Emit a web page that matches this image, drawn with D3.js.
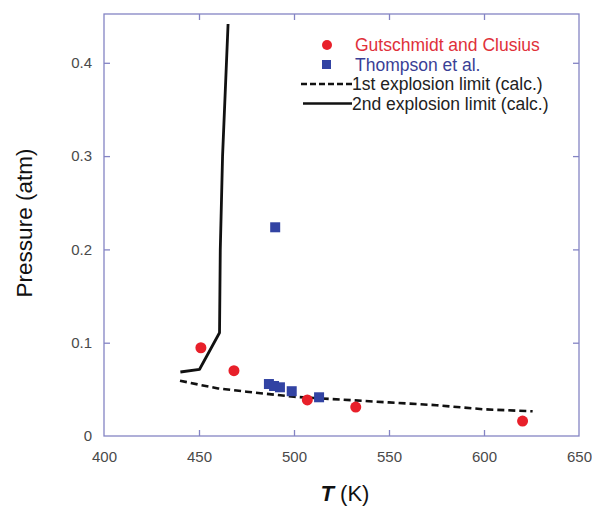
<!DOCTYPE html>
<html><head><meta charset="utf-8">
<script src="https://cdn.jsdelivr.net/npm/d3@7"></script>
<style>body{margin:0;background:#fff;} svg{display:block;}</style>
</head><body><svg id="c" width="592" height="507"></svg>
<script>
const xTicks = [400, 450, 500, 550, 600, 650];
const yTicks = [0, 0.1, 0.2, 0.3, 0.4];
const gutT = [451, 468.4, 507, 532.5, 620.3];
const gutP = [0.0946, 0.070, 0.0386, 0.031, 0.016];
const thoT = [490.1, 486.8, 489.5, 492.6, 498.8, 513.2];
const thoP = [0.2237, 0.0557, 0.0536, 0.0522, 0.048, 0.0415];
const lim1T = [440, 450, 460, 475, 500, 525, 550, 575, 600, 625.6];
const lim1P = [0.0593, 0.055, 0.051, 0.0475, 0.042, 0.039, 0.036, 0.033, 0.0286, 0.0265];
const lim2T = [440.2, 450.3, 460.8, 461.2, 462.4, 465.3];
const lim2P = [0.0686, 0.0715, 0.1107, 0.2, 0.3, 0.4416];
const legendLabels = ["Gutschmidt and Clusius", "Thompson et al.", "1st explosion limit (calc.)", "2nd explosion limit (calc.)"];

const svg = d3.select("#c");
const L = 104, R = 579, T = 14, B = 436;
const x = d3.scaleLinear().domain([400, 650]).range([L, R]);
const y = d3.scaleLinear().domain([0, 0.4523]).range([B, T]);
const axisCol = "#8484c4", tickTxt = "#4a4a4a";
const font = "Liberation Sans, Arial, sans-serif";

// frame
svg.append("rect").attr("x", L).attr("y", T).attr("width", R - L).attr("height", B - T)
  .attr("fill", "none").attr("stroke", axisCol).attr("stroke-width", 1.3);

const tickLen = 6;
const axB = d3.axisBottom(x).tickValues(xTicks).tickSizeInner(-tickLen).tickSizeOuter(0).tickPadding(15).tickFormat(d3.format("d"));
const gB = svg.append("g").attr("transform", `translate(0,${B})`).call(axB);
const axL = d3.axisLeft(y).tickValues(yTicks).tickSizeInner(-tickLen).tickSizeOuter(0).tickPadding(12).tickFormat(d => d === 0 ? "0" : d3.format(".1f")(d));
const gL = svg.append("g").attr("transform", `translate(${L},0)`).call(axL);
const axT = d3.axisTop(x).tickValues(xTicks.slice(1, -1)).tickSizeInner(-tickLen).tickSizeOuter(0).tickFormat("");
const gT = svg.append("g").attr("transform", `translate(0,${T})`).call(axT);
const axR = d3.axisRight(y).tickValues(yTicks.slice(1)).tickSizeInner(-tickLen).tickSizeOuter(0).tickFormat("");
const gR = svg.append("g").attr("transform", `translate(${R},0)`).call(axR);
[gB, gL, gT, gR].forEach(g => {
  g.select(".domain").remove();
  g.selectAll(".tick line").attr("stroke", axisCol).attr("stroke-width", 1.3);
  g.selectAll(".tick text").attr("fill", tickTxt).style("font-family", font).style("font-size", "15px");
});
gB.selectAll(".tick").filter(d => d === 400 || d === 650).select("line").remove();
gL.selectAll(".tick").filter(d => d === 0).select("line").remove();

// axis labels
svg.append("text").attr("x", 345).attr("y", 501).attr("text-anchor", "middle")
  .style("font-family", font).style("font-size", "22px").attr("fill", "#111")
  .html('<tspan font-style="italic" font-weight="bold">T</tspan> (K)');
svg.append("text").attr("transform", "translate(32,223) rotate(-90)").attr("text-anchor", "middle")
  .style("font-family", font).style("font-size", "22.5px").attr("fill", "#111").text("Pressure (atm)");

// lines
const line = d3.line().x(d => x(d[0])).y(d => y(d[1]));
svg.append("path").datum(lim1T.map((t, i) => [t, lim1P[i]])).attr("d", line)
  .attr("fill", "none").attr("stroke", "#111").attr("stroke-width", 2.6).attr("stroke-dasharray", "7,4");
svg.append("path").datum(lim2T.map((t, i) => [t, lim2P[i]])).attr("d", line)
  .attr("fill", "none").attr("stroke", "#111").attr("stroke-width", 2.8).attr("stroke-linejoin", "round");

const red = "#e8202a", blue = "#3243a3";
const sq = 10;
svg.selectAll(".tho").data(thoT.map((t, i) => [t, thoP[i]])).enter().append("rect")
  .attr("x", d => x(d[0]) - sq / 2).attr("y", d => y(d[1]) - sq / 2).attr("width", sq).attr("height", sq).attr("fill", blue);
svg.selectAll(".gut").data(gutT.map((t, i) => [t, gutP[i]])).enter().append("circle")
  .attr("cx", d => x(d[0])).attr("cy", d => y(d[1])).attr("r", 5.5).attr("fill", red);

// legend
const lg = svg.append("g").style("font-family", font).style("font-size", "17.5px");
const ly = [45, 64.5, 84, 103.5];
lg.append("circle").attr("cx", 327).attr("cy", ly[0]).attr("r", 5).attr("fill", red);
lg.append("rect").attr("x", 322).attr("y", ly[1] - 4.5).attr("width", 9).attr("height", 9).attr("fill", blue);
lg.append("line").attr("x1", 301).attr("x2", 352).attr("y1", ly[2]).attr("y2", ly[2]).attr("stroke", "#111").attr("stroke-width", 2.4).attr("stroke-dasharray", "6,3");
lg.append("line").attr("x1", 303).attr("x2", 352).attr("y1", ly[3]).attr("y2", ly[3]).attr("stroke", "#111").attr("stroke-width", 2.4);
const lcols = ["#e0303a", "#3a3f96", "#222", "#222"];
legendLabels.forEach((s, i) => {
  lg.append("text").attr("x", i < 2 ? 355 : 352).attr("y", ly[i]).attr("dy", "0.36em").attr("fill", lcols[i]).text(s);
});
</script></body></html>
